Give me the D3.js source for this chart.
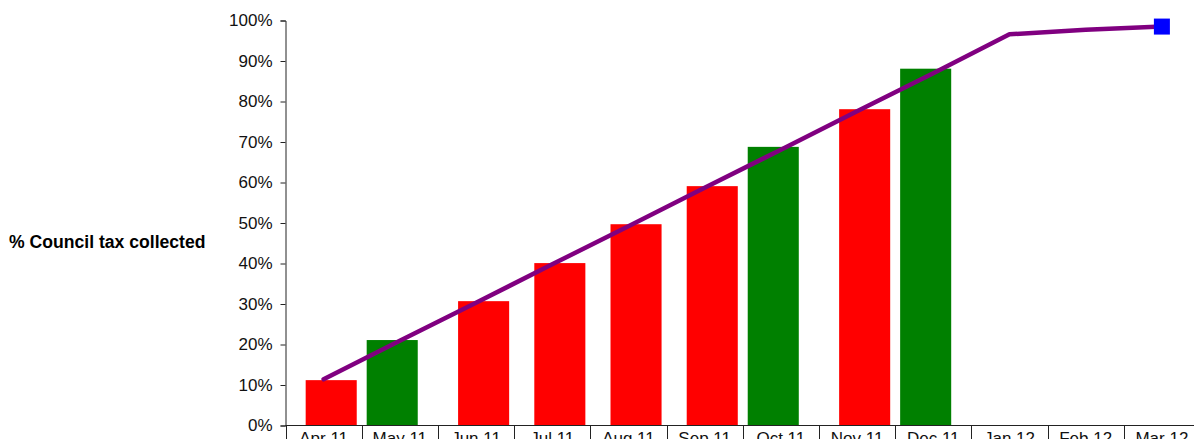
<!DOCTYPE html>
<html>
<head>
<meta charset="utf-8">
<script src="https://cdn.jsdelivr.net/npm/d3@7"></script>
<style>
  html, body { margin: 0; padding: 0; background: #fff; overflow: hidden; }
  svg { display: block; font-family: "Liberation Sans", Arial, Helvetica, sans-serif; }
</style>
</head>
<body>
<svg id="chart" width="1194" height="439"></svg>
<script>
// Monthly council tax collection, financial year 2011/12
const months = ["Apr 11", "May 11", "Jun 11", "Jul 11", "Aug 11", "Sep 11",
                "Oct 11", "Nov 11", "Dec 11", "Jan 12", "Feb 12", "Mar 12"];

// Cumulative % collected, split by status (null where the month has no bar in that series)
const collectedRed   = [11.2, null, 30.7, 40.1, 49.7, 59.1, null, 78.1, null, null, null, null];
const collectedGreen = [null, 21.1, null, null, null, null, 68.8, null, 88.1, null, null, null];

// Cumulative collection profile (target line)
const profile = [11.4, 20.9, 30.3, 39.8, 49.2, 58.7, 68.1, 77.6, 87.0, 96.6, 97.7, 98.5];

const yTicks = [0, 10, 20, 30, 40, 50, 60, 70, 80, 90, 100];
const yTitle = "% Council tax collected";

const svg = d3.select("#chart");
const plotLeft = 285.5, plotRight = 1200, plotTop = 20.5, plotBottom = 425.5;

const x = d3.scaleBand().domain(months).range([plotLeft, plotRight]).padding(0);
const y = d3.scaleLinear().domain([0, 100]).range([plotBottom, plotTop]);

// the two series sit slightly offset within each month
const seriesOffset = d3.scalePoint().domain(["green", "red"]).range([-7.6, 7.6]);
const barW = x.bandwidth() * 0.67;

const series = [
  { key: "red", values: collectedRed, color: "#ff0000" },
  { key: "green", values: collectedGreen, color: "#008000" }
];

series.forEach(s => {
  svg.append("g").selectAll("rect")
    .data(months.map((m, i) => ({ m, v: s.values[i] })).filter(d => d.v != null))
    .join("rect")
      .attr("x", d => x(d.m) + x.bandwidth() / 2 + seriesOffset(s.key) - barW / 2)
      .attr("y", d => y(d.v))
      .attr("width", barW)
      .attr("height", d => y(0) - y(d.v))
      .attr("fill", s.color);
});

// Y axis
const yAxis = svg.append("g")
  .attr("transform", `translate(${plotLeft},0)`)
  .call(d3.axisLeft(y).tickValues(yTicks).tickFormat(d => d + "%").tickSize(5).tickPadding(8));
yAxis.select(".domain").attr("stroke", "#222");
yAxis.selectAll(".tick line").attr("stroke", "#222");
yAxis.selectAll(".tick text").attr("font-size", 17).attr("fill", "#111")
  .attr("font-family", "Liberation Sans, Arial, sans-serif");

// X axis drawn as a row of label cells
const xAxis = svg.append("g")
  .attr("transform", `translate(0,${plotBottom})`)
  .call(d3.axisBottom(x).tickSize(0).tickPadding(6));
xAxis.select(".domain").attr("stroke", "#222").attr("d", `M${plotLeft},0H${plotRight}`);
xAxis.selectAll(".tick text").attr("font-size", 17).attr("fill", "#111")
  .attr("font-family", "Liberation Sans, Arial, sans-serif")
  .attr("dy", "0.71em");
xAxis.append("g").selectAll("line")
  .data(months.map(m => x(m)).concat([plotRight]))
  .join("line")
    .attr("x1", d => Math.round(d) + 0.5).attr("x2", d => Math.round(d) + 0.5)
    .attr("y1", 0).attr("y2", 30)
    .attr("stroke", "#222");

// Profile line
const line = d3.line()
  .x((d, i) => x(months[i]) + x.bandwidth() / 2)
  .y(d => y(d));
svg.append("path")
  .datum(profile)
  .attr("d", line)
  .attr("fill", "none")
  .attr("stroke", "#800080")
  .attr("stroke-width", 4.5)
  .attr("stroke-linecap", "round")
  .attr("stroke-linejoin", "round");

// End-of-year marker
const last = profile.length - 1;
svg.append("rect")
  .attr("x", x(months[last]) + x.bandwidth() / 2 - 8)
  .attr("y", y(profile[last]) - 8)
  .attr("width", 16).attr("height", 16)
  .attr("fill", "#0000ff");

// Y title
svg.append("text")
  .attr("x", 9).attr("y", 243)
  .attr("dominant-baseline", "middle")
  .attr("font-size", 17.6).attr("font-weight", "bold").attr("fill", "#000")
  .text(yTitle);
</script>
</body>
</html>
